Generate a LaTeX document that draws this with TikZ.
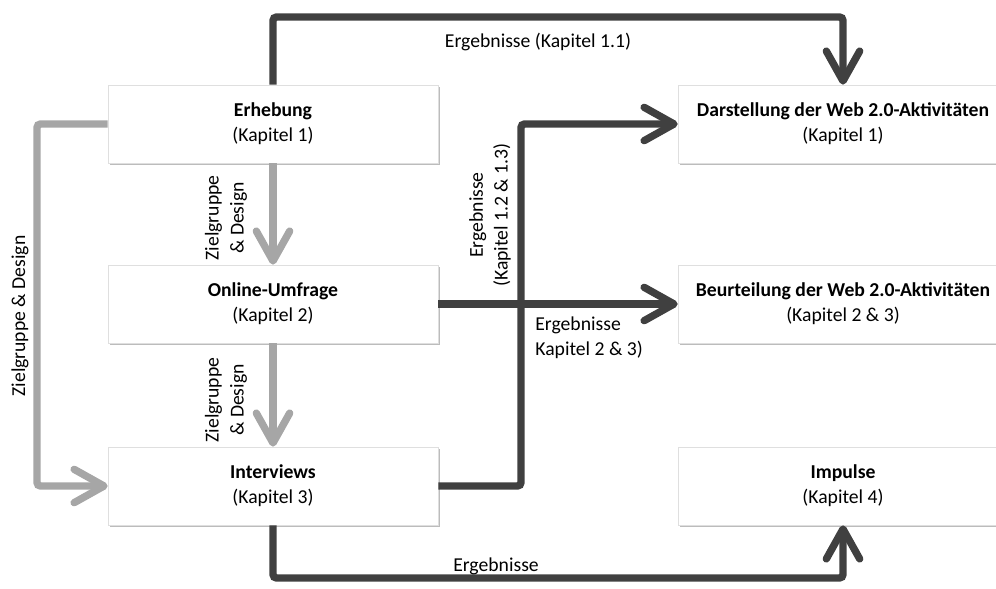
\documentclass[tikz,border=0pt]{standalone}
\usepackage{fontspec}
\setmainfont{Carlito}
\usetikzlibrary{arrows.meta,shadows}

\definecolor{dunkel}{HTML}{404040}
\definecolor{hell}{HTML}{A6A6A6}

\tikzset{
  kasten/.style={draw=gray!25, fill=white, minimum width=6.6cm, minimum height=1.56cm,
    align=center, inner sep=0pt,
    drop shadow={shadow xshift=1.3pt, shadow yshift=-1.3pt, fill=gray!75, opacity=0.7}},
  pfeil/.style={line width=4.2pt, rounded corners=2pt,
    -{Straight Barb[length=17pt, width=19pt, round]}},
  pfeildunkel/.style={pfeil, draw=dunkel},
  pfeilhell/.style={pfeil, draw=hell},
  beschriftung/.style={align=center, inner sep=0pt},
}

\begin{document}
\begin{tikzpicture}[x=0.02cm, y=-0.02cm, font=\fontsize{11.2}{14.2}\selectfont]

    % 0. Rahmen des Bildes
    \useasboundingbox (0,0) rectangle (996,588);
    \clip (0,0) rectangle (996,588);

    % 1. Kästen links
    \node[kasten] (erhebung) at (273,124) {\textbf{Erhebung}\\(Kapitel 1)};
    \node[kasten] (umfrage)  at (273,304) {\textbf{Online-Umfrage}\\(Kapitel 2)};
    \node[kasten] (interviews) at (273,486) {\textbf{Interviews}\\(Kapitel 3)};

    % 2. Kästen rechts
    \node[kasten] (darstellung) at (843,124) {\textbf{Darstellung der Web 2.0-Aktivitäten}\\(Kapitel 1)};
    \node[kasten] (beurteilung) at (843,304) {\textbf{Beurteilung der Web 2.0-Aktivitäten}\\(Kapitel 2 \& 3)};
    \node[kasten] (impulse)     at (843,486) {\textbf{Impulse}\\(Kapitel 4)};

    % Hilfspunkte für die Leitungen
    \coordinate (oben)  at (0,17);
    \coordinate (unten) at (0,578);
    \coordinate (links) at (37,0);
    \coordinate (mitte) at (521,0);

    % 3. Graue Pfeile (Zielgruppe & Design)
    \draw[pfeilhell] (erhebung.south) -- (umfrage.north);
    \draw[pfeilhell] (umfrage.south) -- (interviews.north);
    \draw[pfeilhell] (erhebung.west) -- (erhebung.west -| links) |- (interviews.west);

    \node[beschriftung, rotate=90] (zg1) at (226,218) {Zielgruppe\\\& Design};
    \node[beschriftung, rotate=90] (zg2) at (226,400) {Zielgruppe\\\& Design};
    \node[beschriftung, rotate=90] (zg3) at (20,316) {Zielgruppe \& Design};

    % 4. Dunkle Pfeile (Ergebnisse)
    \draw[pfeildunkel] (erhebung.north) -- (erhebung.north |- oben) -| (darstellung.north);
    \draw[pfeildunkel] (umfrage.east) -- (beurteilung.west);
    \draw[pfeildunkel] (interviews.east) -| (mitte |- darstellung.west) -- (darstellung.west);
    \draw[pfeildunkel] (interviews.south) -- (interviews.south |- unten) -| (impulse.south);

    \node[beschriftung] (erg1) at (538,42) {Ergebnisse (Kapitel 1.1)};
    \node[beschriftung, rotate=90] (erg2) at (490,215) {Ergebnisse\\(Kapitel 1.2 \& 1.3)};
    \node[beschriftung, anchor=west, align=left] (erg3) at (535,338) {Ergebnisse\\Kapitel 2 \& 3)};
    \node[beschriftung] (erg4) at (496,566) {Ergebnisse};

\end{tikzpicture}
\end{document}
